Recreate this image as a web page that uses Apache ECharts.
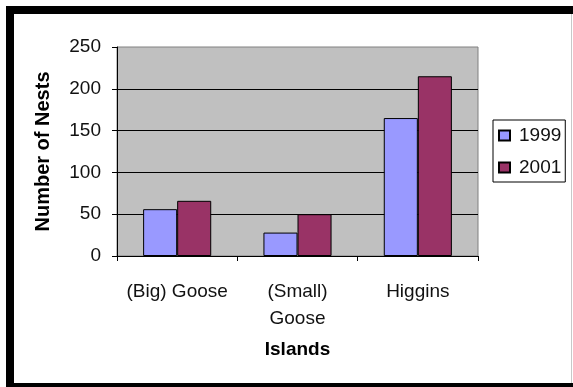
<!DOCTYPE html>
<html>
<head>
<meta charset="utf-8">
<style>
  html, body { margin: 0; padding: 0; background: #fff; }
  #chart { width: 573px; height: 387px; }
</style>
<script src="https://cdn.jsdelivr.net/npm/echarts@6/dist/echarts.min.js"></script>
</head>
<body>
<div id="chart"></div>
<script>
// Nest counts per island, two survey years
const islands = ['(Big) Goose', '(Small)\nGoose', 'Higgins'];
const nests1999 = [56, 28, 165];
const nests2001 = [66, 50, 215];
const yearNames = ['1999', '2001'];
const yTicks = { min: 0, max: 250, step: 50 };

const FONT = 'Liberation Sans, Arial, sans-serif';
const chart = echarts.init(document.getElementById('chart'), null, { renderer: 'canvas' });

chart.setOption({
  animation: false,
  backgroundColor: '#fff',
  textStyle: { fontFamily: FONT },
  grid: {
    left: 117, right: 95, top: 47, bottom: 131,
    show: true,
    backgroundColor: '#c0c0c0',
    borderColor: '#808080',
    borderWidth: 1
  },
  legend: {
    orient: 'vertical',
    left: 493, top: 120,
    width: 75,
    padding: [6, 4, 5, 5],
    itemGap: 13,
    itemWidth: 11, itemHeight: 10,
    icon: 'rect',
    backgroundColor: '#fff',
    borderColor: '#000',
    borderWidth: 1,
    textStyle: { fontFamily: FONT, fontSize: 19, color: '#111', padding: [0, 0, 0, 4] },
    data: yearNames
  },
  xAxis: {
    type: 'category',
    data: islands,
    name: 'Islands',
    nameLocation: 'middle',
    nameGap: 84,
    nameTextStyle: { fontFamily: FONT, fontSize: 19, fontWeight: 'bold', color: '#000' },
    axisLine: { show: true, lineStyle: { color: '#000', width: 1 } },
    axisTick: { show: true, length: 5, lineStyle: { color: '#000' } },
    axisLabel: {
      fontFamily: FONT, fontSize: 19, color: '#111',
      margin: 22, lineHeight: 27, interval: 0
    }
  },
  yAxis: {
    type: 'value',
    min: yTicks.min, max: yTicks.max, interval: yTicks.step,
    name: 'Number of Nests',
    nameLocation: 'middle',
    nameGap: 64,
    nameTextStyle: { fontFamily: FONT, fontSize: 20, fontWeight: 'bold', color: '#000' },
    axisLine: { show: true, lineStyle: { color: '#000', width: 1 } },
    axisTick: { show: true, length: 5, lineStyle: { color: '#000' } },
    axisLabel: { fontFamily: FONT, fontSize: 19, color: '#111', margin: 16 },
    splitLine: { show: true, showMaxLine: false, lineStyle: { color: '#000', width: 1 } }
  },
  series: [
    {
      name: yearNames[0], type: 'bar', data: nests1999,
      barWidth: '28.3%', barGap: '0%',
      itemStyle: { color: '#9999ff', borderColor: '#000', borderWidth: 1 }
    },
    {
      name: yearNames[1], type: 'bar', data: nests2001,
      barWidth: '28.3%', barGap: '0%',
      itemStyle: { color: '#993366', borderColor: '#000', borderWidth: 1 }
    }
  ],
  graphic: [
    { type: 'rect', z: 100, shape: { x: 6, y: 6, width: 567, height: 8 }, style: { fill: '#000' } },
    { type: 'rect', z: 100, shape: { x: 6, y: 6, width: 8, height: 381 }, style: { fill: '#000' } },
    { type: 'rect', z: 100, shape: { x: 6, y: 383, width: 567, height: 4 }, style: { fill: '#000' } },
    { type: 'line', z: 100, shape: { x1: 571.5, y1: 14, x2: 571.5, y2: 383 }, style: { stroke: '#c8c8c8', lineWidth: 1 } }
  ]
});
</script>
</body>
</html>
